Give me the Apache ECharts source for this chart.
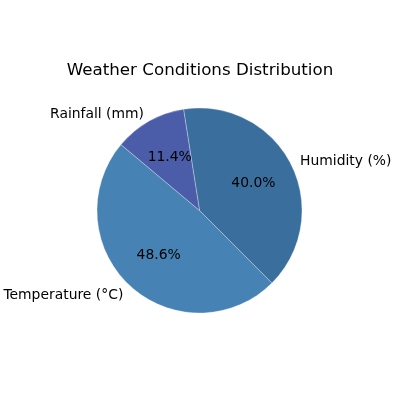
<!DOCTYPE html>
<html><head><meta charset="utf-8">
<script src="https://cdn.jsdelivr.net/npm/echarts@6/dist/echarts.min.js"></script>
<style>html,body{margin:0;padding:0;background:#fff}#c{width:400px;height:400px}</style>
</head><body><div id="c"></div>
<script>
const categories = ['Temperature (°C)', 'Humidity (%)', 'Rainfall (mm)'];
const percentages = [48.6, 40.0, 11.4];
const colors = ['#4682b4', '#3a6f9d', '#4b5ca9'];

const R = 102.5;
const center = [199.5, 210.5];
const font = 'DejaVu Sans';

const chart = echarts.init(document.getElementById('c'), null, {renderer: 'canvas'});
chart.setOption({
  animation: false,
  backgroundColor: '#fff',
  title: {
    text: 'Weather Conditions Distribution',
    left: 'center', top: 57,
    textStyle: {fontFamily: font, fontSize: 16.7, fontWeight: 'normal', color: '#000'}
  },
  series: [
    {
      type: 'pie', center: center, radius: [0, R],
      startAngle: 140, clockwise: false,
      silent: true,
      itemStyle: {borderColor: 'rgba(255,255,255,0.5)', borderWidth: 0.6},
      label: {show: true, position: 'outside', formatter: '{t|{b}}', distanceToLabelLine: 0,
        rich: {t: {fontFamily: font, fontSize: 13.9, color: '#000', padding: [4, 0, 0, 0]}},
        fontFamily: font, fontSize: 13.9, color: '#000'},
      labelLine: {show: false, length: R * 0.1, length2: 0},
      avoidLabelOverlap: false,
      data: categories.map((c, i) => ({name: c, value: percentages[i], itemStyle: {color: colors[i]}}))
    },
    {
      type: 'pie', center: center, radius: [R * 0.6 - 14, R * 0.6 + 6],
      startAngle: 140, clockwise: false, silent: true,
      itemStyle: {color: 'rgba(0,0,0,0)'},
      label: {show: true, position: 'inside', formatter: p => p.value.toFixed(1) + '%',
        fontFamily: font, fontSize: 13.9, color: '#000'},
      labelLine: {show: false},
      data: categories.map((c, i) => ({name: c, value: percentages[i]}))
    }
  ]
});
</script></body></html>
